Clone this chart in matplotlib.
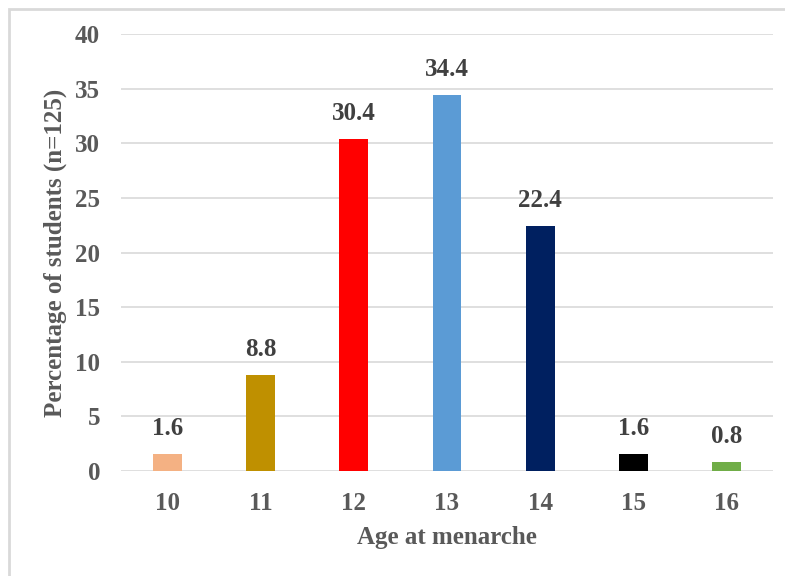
import matplotlib.pyplot as plt
from matplotlib.patches import Rectangle

ages = ['10', '11', '12', '13', '14', '15', '16']
percent = [1.6, 8.8, 30.4, 34.4, 22.4, 1.6, 0.8]
bar_colors = ['#F4B183', '#BF9000', '#FF0000', '#5B9BD5', '#002060', '#000000', '#70AD47']
yticks = [0, 5, 10, 15, 20, 25, 30, 35, 40]

plt.rcParams['font.family'] = ['Liberation Serif', 'DejaVu Serif']
plt.rcParams['font.weight'] = 'bold'

fig = plt.figure(figsize=(7.85, 5.76), dpi=100)
ax = fig.add_axes([121 / 785, 1 - 471 / 576, 652 / 785, 437 / 576])

# light frame around the whole chart
fig.patches.append(Rectangle((9 / 785, -0.1), 1.2, 1 - 9 / 576 + 0.1,
                             transform=fig.transFigure, fill=False,
                             edgecolor='#d9d9d9', linewidth=2))

x = range(len(ages))
bars = ax.bar(x, percent, width=0.31, color=bar_colors, zorder=3)
for rect, val in zip(bars, percent):
    ax.annotate(f'{val:.1f}', (rect.get_x() + rect.get_width() / 2, val),
                xytext=(0, 10), textcoords='offset points',
                ha='center', va='bottom', fontsize=18, fontweight='bold',
                color='#404040')

ax.set_xlim(-0.5, len(ages) - 0.5)
ax.set_ylim(0, 40)
ax.set_yticks(yticks)
ax.set_xticks(list(x))
ax.set_xticklabels(ages)
ax.grid(axis='y', color='#d9d9d9', linewidth=1.2, zorder=0)
for s in ax.spines.values():
    s.set_visible(False)
ax.tick_params(axis='both', length=0, labelsize=18, labelcolor='#595959')
ax.tick_params(axis='y', pad=15)
ax.tick_params(axis='x', pad=15)

ax.set_xlabel('Age at menarche', fontsize=18, fontweight='bold',
              color='#595959', labelpad=8)
ax.set_ylabel('Percentage of students (n=125)', fontsize=18,
              fontweight='bold', color='#595959', labelpad=6)

fig.savefig('out.png', dpi=100)
